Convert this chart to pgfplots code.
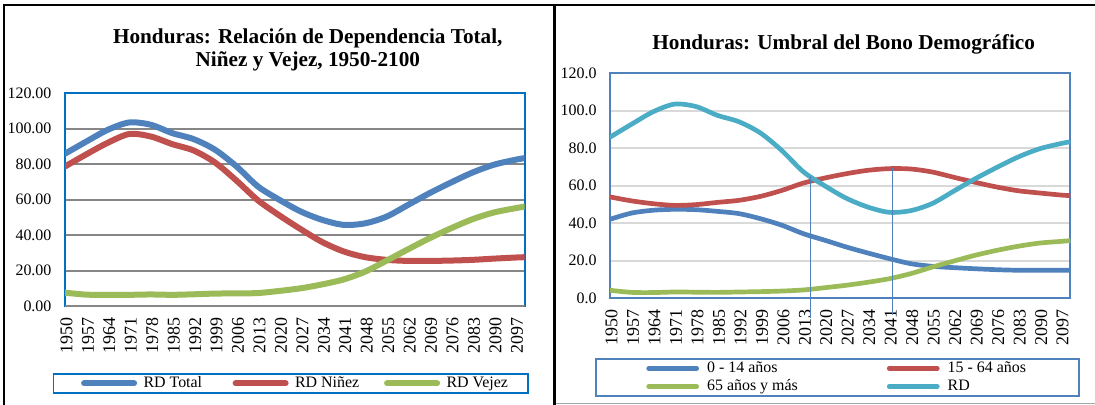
\documentclass[border=0pt]{standalone}
\usepackage{fontspec}
\setmainfont{Liberation Serif}
\usepackage{pgfplots}
\usepackage{pgfplotstable}
\pgfplotsset{compat=1.18}

\definecolor{sblue}{HTML}{4F81BD}
\definecolor{sred}{HTML}{C0504D}
\definecolor{sgreen}{HTML}{9BBB59}
\definecolor{scyan}{HTML}{4BACC6}
\definecolor{frameA}{HTML}{0070C0}
\definecolor{frameB}{HTML}{4F81BD}
\definecolor{gridA}{HTML}{868686}
\definecolor{gridB}{HTML}{D9D9D9}

\pgfplotstableread{
year total ninez vejez
1950 85.8 78.6 7.5
1957 92.7 85.5 6.4
1964 99.3 92.0 6.3
1971 103.4 96.9 6.3
1978 102.1 95.5 6.5
1985 97.4 91.2 6.3
1992 94.0 87.6 6.6
1999 88.0 80.8 7.0
2006 78.6 70.6 7.1
2013 67.3 59.5 7.3
2020 59.8 51.0 8.5
2027 53.2 43.2 10.0
2034 48.5 36.0 12.2
2041 45.7 30.7 15.0
2048 46.6 27.5 19.4
2055 50.4 26.0 25.6
2062 57.0 25.4 32.0
2069 63.6 25.4 38.2
2076 69.6 25.6 43.8
2083 75.2 26.0 48.9
2090 79.6 26.7 52.7
2097 82.4 27.3 55.1
2100 83.3 27.5 56.0
}\tabA

\pgfplotstableread{
year a b c rd
1950 42.0 53.9 4.1 85.8
1957 45.3 51.8 3.0 92.7
1964 46.8 50.3 2.9 99.3
1971 47.3 49.4 3.2 103.4
1978 47.1 49.8 3.1 102.1
1985 46.2 51.0 3.0 97.4
1992 45.0 52.1 3.2 94.0
1999 42.3 54.2 3.4 88.0
2006 38.8 57.4 3.7 78.6
2013 34.3 61.3 4.3 67.3
2020 30.8 64.0 5.5 59.8
2027 27.2 66.3 6.8 53.2
2034 24.0 68.1 8.4 48.5
2041 21.0 69.0 10.3 45.7
2048 18.3 68.8 13.0 46.6
2055 16.9 67.2 16.5 50.4
2062 16.2 64.4 19.7 57.0
2069 15.6 61.7 22.8 63.6
2076 15.1 59.2 25.4 69.6
2083 14.8 57.2 27.6 75.2
2090 14.8 56.0 29.3 79.6
2097 14.8 54.9 30.2 82.4
2100 14.8 54.6 30.6 83.3
}\tabB

\pgfplotsset{
  chartbase/.style={
    scale only axis, anchor=south west,
    xmin=1950, xmax=2100, ymin=0, ymax=120,
    xtick={1950,1957,...,2097}, ytick={0,20,...,120},
    major tick length=0pt,
    /pgf/number format/assume math mode=true,
    tick label style={font=\fontsize{16}{16}\selectfont, inner sep=0pt},
    x tick label style={xshift=1.5bp, rotate=90, anchor=east, font=\fontsize{18}{18}\selectfont, /pgf/number format/1000 sep={}},
    xticklabel shift=11.5bp, yticklabel shift=13.4bp,
    ymajorgrids,
    every axis plot/.append style={smooth, line cap=round, line join=round},
  }
}

\begin{document}
\begin{tikzpicture}
\path[use as bounding box] (0,0) rectangle (1095bp,-405bp);

% panel frames
\draw[black, line width=2bp] (3.5bp,-405bp) -- (3.5bp,-5.2bp) -- (1095bp,-5.2bp);
\draw[black, line width=3bp] (554.7bp,-5bp) -- (554.7bp,-405bp);
\draw[black!35, line width=1bp] (556bp,-403.5bp) -- (1095bp,-403.5bp);

% titles
\node[anchor=base, font=\bfseries\fontsize{21.3}{21.3}\selectfont] at (307.8bp,-43bp) {Honduras: Relación de Dependencia Total,};
\node[anchor=base, font=\bfseries\fontsize{21.3}{21.3}\selectfont] at (307.8bp,-66.5bp) {Niñez y Vejez, 1950-2100};
\node[anchor=base, font=\bfseries\fontsize{21.3}{21.3}\selectfont] at (843.7bp,-49bp) {Honduras: Umbral del Bono Demográfico};

% ---------------- left chart ----------------
\begin{axis}[chartbase,
  at={(65bp,-306bp)}, width=459.6bp, height=213bp,
  y tick label style={/pgf/number format/.cd, fixed, fixed zerofill, precision=2},
  axis line style={frameA, line width=2bp},
  grid style={gridA, line width=2bp},
  legend image code/.code={\draw[#1, line width=6bp, line cap=round] (0bp,0bp) -- (50bp,0bp);},
  legend columns=3,
  legend style={at={(-0.02698,-0.31455)}, anchor=north west, draw=frameA, line width=1.8bp, fill=white,
    inner xsep=27.6bp, inner ysep=2bp,
    nodes={inner xsep=4bp, inner ysep=0pt, text height=12bp, text depth=3bp, font=\fontsize{16}{16}\selectfont},
    cells={anchor=west}},
]
\addplot[sblue, line width=6bp] table[x=year, y=total] {\tabA};
\addlegendentry{\makebox[87.5bp][l]{\hspace{2.4bp}RD Total}}
\addplot[sred, line width=6bp] table[x=year, y=ninez] {\tabA};
\addlegendentry{\makebox[87.5bp][l]{\hspace{2.4bp}RD Niñez}}
\addplot[sgreen, line width=6bp] table[x=year, y=vejez] {\tabA};
\addlegendentry{\makebox[51.9bp][l]{\hspace{2.4bp}RD Vejez}}
\draw[gridA, line width=2bp] (rel axis cs:0,0) -- (rel axis cs:1,0);
\end{axis}

% ---------------- right chart ----------------
\begin{axis}[chartbase,
  at={(610.1bp,-298bp)}, width=460.2bp, height=225bp,
  yticklabel shift=13.3bp,
  y tick label style={/pgf/number format/.cd, fixed, fixed zerofill, precision=1},
  axis line style={frameB, line width=2bp},
  grid style={gridB, line width=2bp},
  legend image code/.code={\draw[#1, line width=4.7bp, line cap=round] (0bp,0bp) -- (48bp,0bp);},
  legend columns=2,
  legend style={at={(-0.0326,-0.26667)}, anchor=north west, draw=frameB, line width=1.8bp, fill=white,
    inner xsep=50.3bp, inner ysep=2bp, row sep=3bp,
    nodes={inner xsep=4bp, inner ysep=0pt, text height=12bp, text depth=3bp, font=\fontsize{16}{16}\selectfont},
    cells={anchor=west}},
]
\addplot[sblue, line width=4.7bp] table[x=year, y=a] {\tabB};
\addlegendentry{\makebox[179.9bp][l]{\hspace{4.1bp}0 - 14 años}}
\addplot[sred, line width=4.7bp] table[x=year, y=b] {\tabB};
\addlegendentry{\makebox[81bp][l]{\hspace{4.1bp}15 - 64 años}}
\addplot[sgreen, line width=4.7bp] table[x=year, y=c] {\tabB};
\addlegendentry{\makebox[179.9bp][l]{\hspace{4.1bp}65 años y más}}
\addplot[scyan, line width=4.7bp] table[x=year, y=rd] {\tabB};
\addlegendentry{\makebox[81bp][l]{\hspace{4.1bp}RD}}
\coordinate (v1t) at (axis cs:2015.3,65.2);
\coordinate (v1b) at (axis cs:2015.3,-10.8);
\coordinate (v2t) at (axis cs:2042.1,69.2);
\coordinate (v2b) at (axis cs:2042.1,-9.1);
\end{axis}
\draw[frameB, line width=1.3bp] (v1t) -- (v1b);
\draw[frameB, line width=1.3bp] (v2t) -- (v2b);
\end{tikzpicture}
\end{document}
